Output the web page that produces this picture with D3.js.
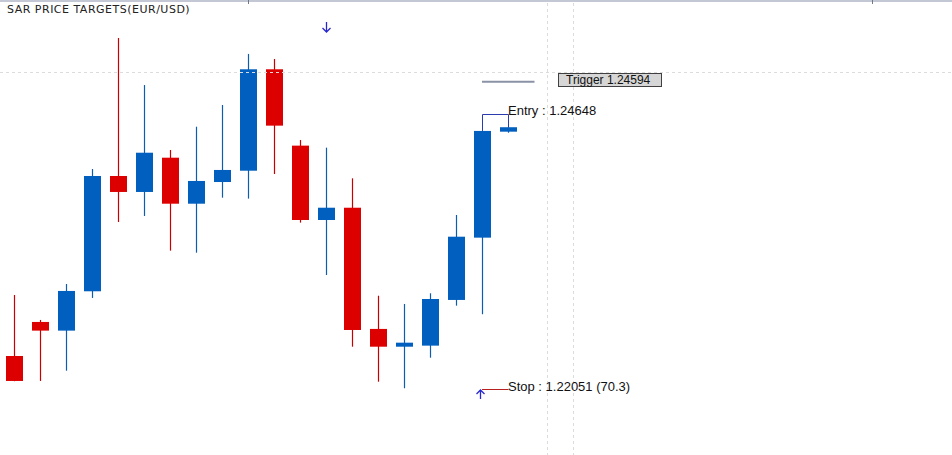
<!DOCTYPE html>
<html>
<head>
<meta charset="utf-8">
<script src="https://cdn.jsdelivr.net/npm/d3@7"></script>
<style>
  body { margin: 0; background: #fff; }
  svg { display: block; }
</style>
</head>
<body>
<div id="chart"></div>
<script>
// candle data (EUR/USD)
const opens  = [1.22363, 1.22685, 1.22603, 1.22975, 1.24065, 1.23914, 1.24238, 1.23803, 1.24008, 1.24115,
                1.25074, 1.24352, 1.23649, 1.23765, 1.22619, 1.22451, 1.22461, 1.22893, 1.23482, 1.24484];
const highs  = [1.22940, 1.22704, 1.23044, 1.24131, 1.25370, 1.24925, 1.24311, 1.24531, 1.24736, 1.25219,
                1.25171, 1.24405, 1.24333, 1.24043, 1.22933, 1.22855, 1.22956, 1.23696, 1.24491, 1.24526];
const lows   = [1.22125, 1.22127, 1.22224, 1.22912, 1.23630, 1.23687, 1.23359, 1.23340, 1.23860, 1.23851,
                1.24084, 1.23624, 1.23129, 1.22451, 1.22120, 1.22058, 1.22347, 1.22839, 1.22758, 1.24474];
const closes = [1.22127, 1.22603, 1.22978, 1.24065, 1.23914, 1.24285, 1.23803, 1.24018, 1.24122, 1.25074,
                1.24541, 1.23649, 1.23765, 1.22609, 1.22451, 1.22489, 1.22902, 1.23491, 1.24491, 1.24526];

const titleText = "SAR PRICE TARGETS(EUR/USD)";
const triggerPrice = 1.24957, triggerLabel = "Trigger 1.24594";
const entryPrice = 1.24648, entryLabel = "Entry : 1.24648";
const stopPrice = 1.22054, stopLabel = "Stop : 1.22051 (70.3)";
const sarDown = [{i: 12, p: 1.25521}];   // down arrow above bar (top of arrow)
const sarUp = [{i: 18, p: 1.22042}];     // up arrow below bar (tip of arrow)
const gridPrices = [1.25050];
const gridIdx = [20.5, 21.5];
const topTicks = [9, 33];

const width = 952, height = 455;
const blue = "#005fbf", red = "#dd0000";

const svg = d3.select('#chart').append('svg')
  .attr("width", width)
  .attr("height", height);

const x = d3.scaleLinear().domain([0, 36]).range([14.5, 950.5]);
const y = d3.scaleLinear().domain([1.21427, 1.25729]).range([height, 0]);

const bodyW = 17;
const data = opens.map((o, i) => ({i: i, o: o, h: highs[i], l: lows[i], c: closes[i]}));
const col = d => d.c >= d.o ? blue : red;

// top frame
svg.append("line")
  .attr("x1", 0).attr("x2", width).attr("y1", 1).attr("y2", 1)
  .attr("stroke", "#c4c8d4").attr("stroke-width", 2);
svg.selectAll(".ttick").data(topTicks).enter().append("line")
  .attr("x1", d => Math.floor(x(d)) + 0.5).attr("x2", d => Math.floor(x(d)) + 0.5)
  .attr("y1", 0).attr("y2", 4)
  .attr("stroke", "#707890");

// candles
const g = svg.append("g");
g.selectAll(".wick").data(data).enter().append("line")
  .attr("x1", d => Math.floor(x(d.i)) + 0.5)
  .attr("x2", d => Math.floor(x(d.i)) + 0.5)
  .attr("y1", d => y(d.h))
  .attr("y2", d => y(d.l))
  .attr("stroke", d => d.c >= d.o ? "#0d5cb0" : "#c80000")
  .attr("stroke-width", 1.2);
g.selectAll(".body").data(data).enter().append("rect")
  .attr("x", d => Math.floor(x(d.i)) - 8)
  .attr("width", bodyW)
  .attr("y", d => y(Math.max(d.o, d.c)))
  .attr("height", d => Math.max(4, y(Math.min(d.o, d.c)) - y(Math.max(d.o, d.c))))
  .attr("fill", col);

// grid
svg.selectAll(".hgrid").data(gridPrices).enter().append("line")
  .attr("x1", 0).attr("x2", width)
  .attr("y1", d => Math.round(y(d)) + 0.5).attr("y2", d => Math.round(y(d)) + 0.5)
  .attr("stroke", "#dcdcdc").attr("stroke-dasharray", "3,3");
svg.selectAll(".vgrid").data(gridIdx).enter().append("line")
  .attr("x1", d => Math.floor(x(d)) + 0.5).attr("x2", d => Math.floor(x(d)) + 0.5)
  .attr("y1", 3).attr("y2", height)
  .attr("stroke", "#dcdcdc").attr("stroke-dasharray", "3,3");

// title
svg.append("text")
  .attr("x", 7).attr("y", 13)
  .attr("font-family", "DejaVu Sans, sans-serif")
  .attr("font-size", "11px")
  .attr("letter-spacing", "0.5px")
  .attr("fill", "#222")
  .text(titleText);

// trigger
svg.append("line")
  .attr("x1", x(18) - 0.5).attr("x2", x(20))
  .attr("y1", y(triggerPrice)).attr("y2", y(triggerPrice))
  .attr("stroke", "#8a92a6").attr("stroke-width", 2);
svg.append("rect")
  .attr("x", Math.floor(x(21)) - 1.5).attr("y", Math.round(y(triggerPrice)) - 8.5)
  .attr("width", 103).attr("height", 13)
  .attr("fill", "#d6d6d6").attr("stroke", "#404040");
svg.append("text")
  .attr("x", x(21) + 5.5).attr("y", y(triggerPrice) + 2)
  .attr("font-family", "Liberation Sans, Arial, sans-serif")
  .attr("font-size", "12px")
  .attr("fill", "#111")
  .text(triggerLabel);

// entry bracket
const ey = Math.round(y(entryPrice)) + 0.5;
svg.append("path")
  .attr("d", "M" + (Math.floor(x(18)) + 0.5) + "," + y(highs[18]) +
             "V" + ey + "H" + (Math.floor(x(19)) + 0.5) + "V" + y(highs[19]))
  .attr("fill", "none").attr("stroke", "#2a3cb0");
svg.append("text")
  .attr("x", x(19) - 0.5).attr("y", ey)
  .attr("font-family", "Liberation Sans, Arial, sans-serif")
  .attr("font-size", "13px")
  .attr("fill", "#111")
  .text(entryLabel);

// stop
const sy = Math.round(y(stopPrice)) + 0.5;
svg.append("line")
  .attr("x1", x(18) - 0.5).attr("x2", x(19))
  .attr("y1", sy).attr("y2", sy)
  .attr("stroke", "#b82020");
svg.append("text")
  .attr("x", x(19) - 0.5).attr("y", sy + 1)
  .attr("font-family", "Liberation Sans, Arial, sans-serif")
  .attr("font-size", "13px")
  .attr("fill", "#111")
  .text(stopLabel);

// SAR arrows
const arrowC = "#2828d0";
svg.selectAll(".adown").data(sarDown).enter().append("path")
  .attr("d", d => {
    const cx = Math.floor(x(d.i)) + 0.5, t = y(d.p);
    return "M" + cx + "," + t + "V" + (t + 10) + "M" + (cx - 4) + "," + (t + 6) + "L" + cx + "," + (t + 10) + "L" + (cx + 4) + "," + (t + 6);
  })
  .attr("fill", "none").attr("stroke", arrowC).attr("stroke-width", 1.3);
svg.selectAll(".aup").data(sarUp).enter().append("path")
  .attr("d", d => {
    const cx = Math.floor(x(d.i)) - 1.5, t = y(d.p);
    return "M" + cx + "," + t + "V" + (t + 9) + "M" + (cx - 4) + "," + (t + 4) + "L" + cx + "," + t + "L" + (cx + 4) + "," + (t + 4);
  })
  .attr("fill", "none").attr("stroke", arrowC).attr("stroke-width", 1.3);
</script>
</body>
</html>
